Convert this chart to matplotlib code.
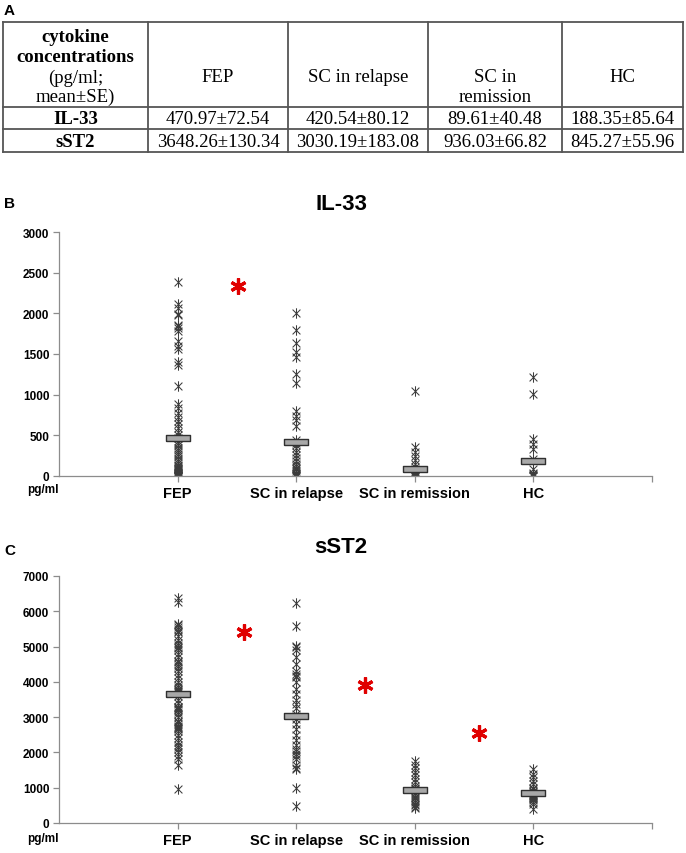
import numpy as np
import matplotlib
matplotlib.use("Agg")
from matplotlib import pyplot as plt
from matplotlib.path import Path

# groups and table values (mean, SE)
groups = ["FEP", "SC in relapse", "SC in remission", "HC"]
header = ["FEP", "SC in relapse", "SC in\nremission", "HC"]
il33_mean = [470.97, 420.54, 89.61, 188.35]
il33_se = [72.54, 80.12, 40.48, 85.64]
sst2_mean = [3648.26, 3030.19, 936.03, 845.27]
sst2_se = [130.34, 183.08, 66.82, 55.96]

# individual values (IL-33)
il33_fep = [2390, 2110, 2060, 1990, 1980, 1860, 1840, 1820, 1780, 1660, 1600, 1560,
            1400, 1360, 1110, 880, 830, 780, 730, 680, 640, 590, 540, 500, 470, 430,
            400, 380, 350, 320, 290, 270, 240, 210, 180, 160, 140, 120, 100, 90, 80,
            70, 60, 50, 40, 35, 30, 25, 20, 15, 10, 5, 0, 0, 0]
il33_rel = [2000, 1790, 1630, 1530, 1460, 1260, 1140, 800, 740, 690, 620, 440, 410,
            380, 350, 300, 260, 220, 180, 150, 120, 100, 80, 60, 40, 30, 20, 10, 5, 0]
il33_rem = [1045, 360, 300, 250, 200, 150, 110, 80, 60, 50, 40, 30, 20, 15, 10, 5, 0, 0]
il33_hc = [1220, 1005, 450, 390, 330, 210, 80, 40, 20, 10, 0, 0]

# individual values (sST2)
sst2_fep = [6380, 6250, 5650, 5600, 5550, 5500, 5450, 5400, 5300, 5200, 5100, 5050,
            5000, 4950, 4900, 4800, 4700, 4600, 4550, 4500, 4450, 4400, 4300, 4200,
            4100, 4000, 3900, 3850, 3800, 3780, 3750, 3700, 3600, 3500, 3400, 3300,
            3280, 3250, 3220, 3200, 3150, 3100, 3000, 2900, 2850, 2800, 2750, 2720,
            2700, 2650, 2600, 2500, 2400, 2300, 2200, 2150, 2100, 2000, 1900, 1800,
            1650, 970]
sst2_rel = [6230, 5580, 5020, 4980, 4900, 4700, 4500, 4320, 4220, 4170, 4130, 4000,
            3800, 3650, 3500, 3380, 3250, 3100, 2950, 2800, 2650, 2500, 2350, 2200,
            2100, 2050, 1950, 1900, 1800, 1650, 1560, 1530, 1000, 480]
sst2_rem = [1750, 1650, 1550, 1450, 1350, 1250, 1150, 1050, 1000, 950, 900, 850,
            800, 750, 700, 650, 600, 550, 500, 450, 420]
sst2_hc = [1530, 1400, 1300, 1200, 1100, 1000, 950, 900, 880, 850, 820, 800, 780,
           760, 740, 720, 700, 680, 650, 600, 550, 410]

# significance stars (x between groups, y value)
il33_stars_x = [1.51]
il33_stars_y = [2330]
sst2_stars_x = [1.56, 2.58, 3.54]
sst2_stars_y = [5410, 3910, 2550]

W, H = 686, 854
fig = plt.figure(figsize=(W / 100, H / 100), dpi=100)
fig.patch.set_facecolor("white")

sans = "Liberation Sans"
serif = "Liberation Serif"

# ---- table (panel A), drawn in pixel coords
tab = fig.add_axes([0, 0, 1, 1])
tab.set_xlim(0, W)
tab.set_ylim(H, 0)
tab.axis("off")
cols = [3, 148, 288, 428, 562, 683]
rows = [23, 108, 130, 153]
lc = "#555555"
for xx in cols:
    tab.plot([xx, xx], [rows[0], rows[-1]], color=lc, lw=1.3)
for yy in rows:
    tab.plot([cols[0], cols[-1]], [yy, yy], color=lc, lw=1.3)

fs = 13.5
c0 = (cols[0] + cols[1]) / 2
tab.text(c0, 38, "cytokine", ha="center", va="center", family=serif, fontsize=fs, weight="bold")
tab.text(c0, 58, "concentrations", ha="center", va="center", family=serif, fontsize=fs, weight="bold")
tab.text(c0, 78, "(pg/ml;", ha="center", va="center", family=serif, fontsize=fs)
tab.text(c0, 97, "mean\u00b1SE)", ha="center", va="center", family=serif, fontsize=fs)
for i, h in enumerate(header):
    cx = (cols[i + 1] + cols[i + 2]) / 2
    lines = h.split("\n")
    for k, ln in enumerate(lines):
        tab.text(cx, 78 + 20 * k, ln, ha="center", va="center", family=serif, fontsize=fs)
row_names = ["IL-33", "sST2"]
row_vals = [(il33_mean, il33_se), (sst2_mean, sst2_se)]
for r, (nm, (m, s)) in enumerate(zip(row_names, row_vals)):
    cy = (rows[r + 1] + rows[r + 2]) / 2 + 1
    tab.text(c0, cy, nm, ha="center", va="center", family=serif, fontsize=fs, weight="bold")
    for i in range(4):
        cx = (cols[i + 1] + cols[i + 2]) / 2
        tab.text(cx, cy, f"{m[i]:.2f}\u00b1{s[i]:.2f}", ha="center", va="center",
                 family=serif, fontsize=fs)

# panel letters and titles
tab.text(4, 11, "A", ha="left", va="center", family=sans, fontsize=11, weight="bold")
tab.text(4, 204, "B", ha="left", va="center", family=sans, fontsize=11, weight="bold")
tab.text(4, 551, "C", ha="left", va="center", family=sans, fontsize=11, weight="bold")
tab.text(341, 205, "IL-33", ha="center", va="center", family=sans, fontsize=16, weight="bold")
tab.text(341, 548, "sST2", ha="center", va="center", family=sans, fontsize=16, weight="bold")
tab.text(59, 490, "pg/ml", ha="right", va="center", family=sans, fontsize=8.5, weight="bold")
tab.text(59, 839, "pg/ml", ha="right", va="center", family=sans, fontsize=8.5, weight="bold")

# Excel-like asterisk: X with a vertical stroke
ast = Path([(0, -1), (0, 1), (-0.75, -0.75), (0.75, 0.75), (-0.75, 0.75), (0.75, -0.75)],
           [Path.MOVETO, Path.LINETO, Path.MOVETO, Path.LINETO, Path.MOVETO, Path.LINETO])
red_star = (6, 2, 0)
bar_marker = [(-1, -0.22), (1, -0.22), (1, 0.22), (-1, 0.22), (-1, -0.22)]


def panel(rect, data, means, ymax, step, sx, sy):
    ax = fig.add_axes(rect)
    for i, vals in enumerate(data):
        ax.plot(np.full(len(vals), i + 1), vals, linestyle="none", marker=ast,
                markersize=7.5, mew=0.75, color="#3c3c3c", zorder=2)
    ax.plot(np.arange(1, 5), means, linestyle="none", marker=bar_marker,
            markersize=17, mfc="#a8a8a8", mec="#303030", mew=1.0, zorder=3)
    ax.plot(sx, sy, linestyle="none", marker=red_star, markersize=11.5, mew=2.3,
            color="#e00000", zorder=4)
    ax.set_xlim(0, 5)
    ax.set_ylim(0, ymax)
    ax.set_yticks(np.arange(0, ymax + 1, step))
    ax.set_xticks([1, 2, 3, 4, 5])
    ax.set_xticklabels(groups + [""])
    for sp in ["top", "right"]:
        ax.spines[sp].set_visible(False)
    for sp in ["left", "bottom"]:
        ax.spines[sp].set_color("#8c8c8c")
        ax.spines[sp].set_linewidth(0.9)
    ax.tick_params(axis="both", direction="out", length=4, width=0.9, color="#8c8c8c")
    ax.tick_params(axis="x", pad=3)
    ax.tick_params(axis="y", pad=3)
    for lb in ax.get_yticklabels():
        lb.set_fontfamily(sans)
        lb.set_fontsize(8.5)
        lb.set_fontweight("bold")
    for lb in ax.get_xticklabels():
        lb.set_fontfamily(sans)
        lb.set_fontsize(10.5)
        lb.set_fontweight("bold")
    ax.patch.set_alpha(0)
    return ax


panel([59 / W, 1 - 477 / H, 593 / W, 244 / H],
      [il33_fep, il33_rel, il33_rem, il33_hc], il33_mean, 3000, 500,
      il33_stars_x, il33_stars_y)
panel([59 / W, 1 - 824 / H, 593 / W, 247 / H],
      [sst2_fep, sst2_rel, sst2_rem, sst2_hc], sst2_mean, 7000, 1000,
      sst2_stars_x, sst2_stars_y)

fig.savefig("out.png", dpi=100)
